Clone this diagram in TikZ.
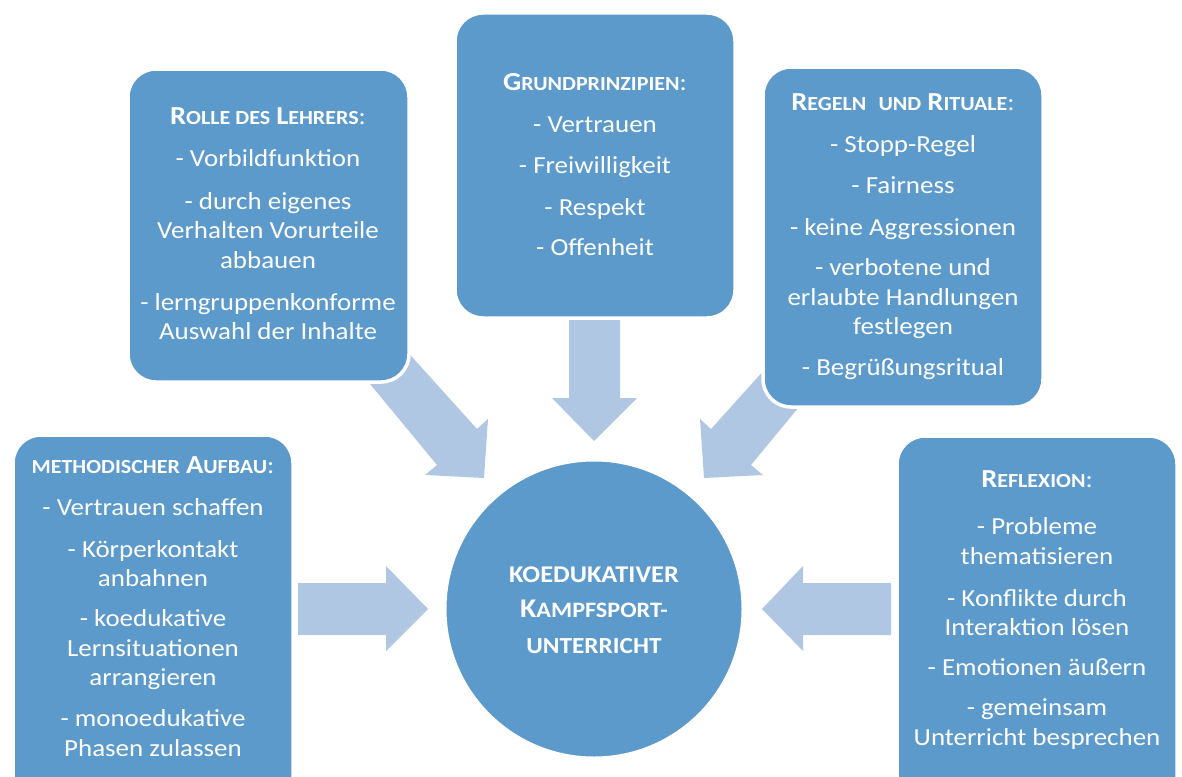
\documentclass[tikz,border=0pt]{standalone}
\usepackage{fontspec}
\setmainfont{Carlito}[FakeStretch=1.1]
\definecolor{boxblue}{RGB}{92,154,204}
\definecolor{arrowblue}{RGB}{176,199,228}
\newcommand\smc[1]{{\fontsize{20}{20}\selectfont #1}}
\newcommand\bgc[1]{{\fontsize{26}{26}\selectfont #1}}
\newcommand\hdstrut{\rule{0pt}{20pt}}
\begin{document}
\begin{tikzpicture}[x=1pt,y=-1pt,
  infobox/.style={draw=white,line width=3.5pt,fill=boxblue,rounded corners=28pt,rectangle},
  blockarrow/.style={fill=arrowblue},
  boxtext/.style={anchor=north,inner sep=0pt,align=center,text=white,font=\fontsize{24.5}{29.5}\selectfont},
  centertext/.style={anchor=north,inner sep=0pt,align=center,text=white,font=\bfseries\fontsize{24}{35.5}\selectfont},
]
\useasboundingbox (0,0) rectangle (1182,776);
\clip (0,0) rectangle (1182,776);

% block arrows (drawn first, boxes overlap their tails)
\fill[blockarrow] (298,583) -- (386,583) -- (386,566) -- (428,609) -- (386,651) -- (386,635) -- (298,635) -- cycle;
\fill[blockarrow] (891,583) -- (803,583) -- (803,566) -- (762,609) -- (803,651) -- (803,635) -- (891,635) -- cycle;
\fill[blockarrow] (569,320) -- (620,320) -- (620,398) -- (637,398) -- (594,441) -- (552,398) -- (569,398) -- cycle;
\fill[blockarrow] (395,338) -- (477,429) -- (488,419) -- (484,478) -- (425,475) -- (437,465) -- (356,367) -- cycle;
\fill[blockarrow] (793,338) -- (711,429) -- (700,419) -- (704,478) -- (763,475) -- (751,465) -- (832,367) -- cycle;

% boxes
\node[infobox,minimum width=281pt,minimum height=313pt] (rolle) at (268.5,225.5) {};
\node[infobox,minimum width=280pt,minimum height=305pt] (grund) at (595,165.5) {};
\node[infobox,minimum width=280pt,minimum height=340pt] (regeln) at (903,237) {};
\node[infobox,minimum width=280pt,minimum height=375pt] (method) at (153,622.5) {};
\node[infobox,minimum width=280pt,minimum height=374pt] (reflex) at (1037,623) {};
\node[circle,fill=boxblue,draw=white,line width=2pt,minimum size=297pt] (center) at (594,609) {};

% texts
\node[boxtext] (rolletext) at (268,104) {\hdstrut\textbf{\bgc{R}\smc{OLLE DES} \bgc{L}\smc{EHRERS}}:\\[12.5pt]
- Vorbildfunktion\\[13.5pt]
- durch eigenes\\ Verhalten Vorurteile\\ abbauen\\[12.5pt]
- lerngruppenkonforme\\ Auswahl der Inhalte};

\node[boxtext] (grundtext) at (595,70) {\hdstrut\textbf{\bgc{G}\smc{RUNDPRINZIPIEN}}:\\[12.5pt]
- Vertrauen\\[12pt]
- Freiwilligkeit\\[12pt]
- Respekt\\[11pt]
- Offenheit};

\node[boxtext] (regelntext) at (903,90) {\hdstrut\textbf{\bgc{R}\smc{EGELN}\ \ \smc{UND} \bgc{R}\smc{ITUALE}}:\\[12.5pt]
- Stopp-Regel\\[12pt]
- Fairness\\[12pt]
- keine Aggressionen\\[11pt]
- verbotene und\\ erlaubte Handlungen\\ festlegen\\[11pt]
- Begrüßungsritual};

\node[boxtext] (methodtext) at (153,453) {\hdstrut\textbf{\smc{METHODISCHER} \bgc{A}\smc{UFBAU}}:\\[12.5pt]
- Vertrauen schaffen\\[12.5pt]
- Körperkontakt\\ anbahnen\\[10.5pt]
- koedukative\\ Lernsituationen\\ arrangieren\\[11.5pt]
- monoedukative\\ Phasen zulassen};

\node[boxtext] (reflextext) at (1037,467) {\hdstrut\textbf{\bgc{R}\smc{EFLEXION}}:\\[18pt]
- Probleme\\ thematisieren\\[12.5pt]
- Konflikte durch\\ Interaktion lösen\\[10.5pt]
- Emotionen äußern\\[10.5pt]
- gemeinsam\\ Unterricht besprechen};

\node[centertext] (centertxt) at (594,562) {\hdstrut KOEDUKATIVER\\
{\fontsize{27}{27}\selectfont K}{\fontsize{22}{22}\selectfont AMPFSPORT-}\\
{\fontsize{23}{23}\selectfont UNTERRICHT}};
\end{tikzpicture}
\end{document}
